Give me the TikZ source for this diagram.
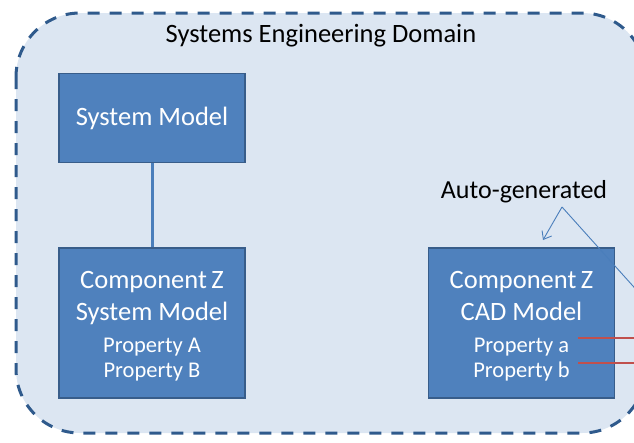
\documentclass[tikz,border=0pt]{standalone}
\usepackage{fontspec}
\setmainfont{Carlito}
\usetikzlibrary{arrows.meta}

\definecolor{domainfill}{HTML}{DCE6F2}
\definecolor{domainedge}{HTML}{2F5A8C}
\definecolor{boxfill}{HTML}{4F81BD}
\definecolor{boxedge}{HTML}{385D8A}
\definecolor{linkblue}{HTML}{4A7EBB}
\definecolor{propred}{HTML}{C0504D}

\tikzset{
  modelbox/.style={draw=boxedge, line width=1.8pt, fill=boxfill, text=white,
    align=center, inner sep=0pt, minimum width=186pt},
  big/.style={font=\fontsize{26.5}{32}\selectfont},
  callout/.style={draw=linkblue, line width=0.9pt},
  proplink/.style={draw=propred, line width=1.2pt},
}

\newcommand{\propline}[1]{{\fontsize{22.5}{25}\selectfont #1}}
\newcommand{\topstrut}{\rule{0pt}{24pt}}

\begin{document}
\begin{tikzpicture}[x=1pt, y=-1pt]
  \useasboundingbox (0,0) rectangle (634,442);
  \begin{scope}
    \clip (0,0) rectangle (634,442);

    % dashed domain boundary (continues past the right edge)
    \draw[fill=domainfill, draw=domainedge, line width=3pt,
          dash pattern=on 12pt off 10pt, rounded corners=64pt]
      (16,13) rectangle (646,433);

    \node[font=\fontsize{26.5}{30}\selectfont] (title) at (321,36)
      {Systems Engineering Domain};

    % system model and its component
    \node[modelbox, big, minimum height=89pt] (sys) at (152,118)
      {System Model};
    \node[modelbox, big, minimum height=150pt] (compsys) at (152,323)
      {\topstrut Component\,Z\\[0pt] System Model\\[0pt]
       \propline{Property A}\\[-7pt] \propline{Property B}};
    \draw[draw=linkblue, line width=3pt] (sys.south) -- (compsys.north);

    % generated CAD model
    \node[modelbox, big, minimum height=150pt] (compcad) at (521.5,323)
      {\topstrut Component\,Z\\[0pt] CAD Model\\[0pt]
       \propline{Property a}\\[-7pt] \propline{Property b}};

    \node[font=\fontsize{26}{30}\selectfont] (auto) at (524,192)
      {Auto-generated};
    \coordinate (apex) at (562,207);
    \coordinate (offpage) at (650,305);
    \draw[callout, -{Straight Barb[length=7pt, width=11pt]}]
      (apex) -- (543,240);
    \draw[callout] (apex) -- (offpage);

    % property links leaving the picture to the right
    \coordinate (pa) at (578,338);
    \coordinate (pb) at (578,363);
    \coordinate (paout) at (640,338);
    \coordinate (pbout) at (640,363);
    \draw[proplink] (pa) -- (paout);
    \draw[proplink] (pb) -- (pbout);
  \end{scope}
\end{tikzpicture}
\end{document}
